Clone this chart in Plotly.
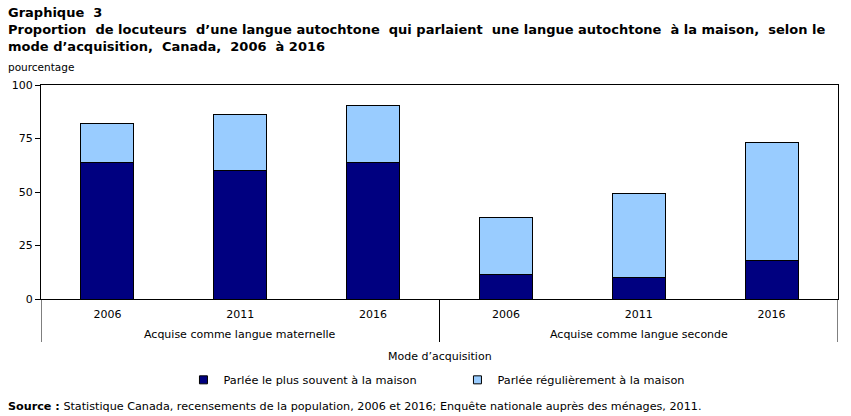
import plotly.graph_objects as go

groups = ["Acquise comme langue maternelle"] * 3 + ["Acquise comme langue seconde"] * 3
years = ["2006", "2011", "2016", "2006", "2011", "2016"]
most_often = [63.6, 60.2, 63.8, 11.6, 10.2, 17.8]
regularly = [18.6, 26.2, 26.4, 26.6, 39.2, 55.1]
series_names = ["Parlée le plus souvent à la maison", "Parlée régulièrement à la maison"]
series_colors = ["#000080", "#99CCFF"]
y_ticks = [0, 25, 50, 75, 100]

FONT = "DejaVu Sans"
W, H = 851, 416
ML, MR, MT, MB = 39, 13, 85, 117
PW, PH = W - ML - MR, H - MT - MB

xpos = list(range(len(years)))

fig = go.Figure()
for vals, name, col in zip([most_often, regularly], series_names, series_colors):
    fig.add_trace(go.Bar(x=xpos, y=vals, name=name, showlegend=False,
                         marker=dict(color=col, line=dict(color="black", width=1)), width=0.4))
# legend entries with small square markers
for name, col in zip(series_names, series_colors):
    fig.add_trace(go.Scatter(x=[None], y=[None], mode="markers", name=name,
                             marker=dict(symbol="square", size=8, color=col,
                                         line=dict(color="black", width=1))))

fig.update_layout(
    width=W, height=H,
    barmode="stack",
    margin=dict(l=ML, r=MR, t=MT, b=MB),
    paper_bgcolor="white", plot_bgcolor="white",
    font=dict(family=FONT, size=11, color="black"),
    showlegend=True,
    legend=dict(orientation="h", x=0.5 + 18 / PW, xanchor="center", y=-0.31, yanchor="top",
                font=dict(size=11.3), itemwidth=30, entrywidth=229, entrywidthmode="pixels",
                traceorder="normal"),
    xaxis=dict(range=[-0.5, len(years) - 0.5], tickvals=xpos, ticktext=years,
               showline=True, linecolor="black", linewidth=1, mirror=True,
               ticks="", showgrid=False, zeroline=False, tickfont=dict(size=11),
               ticklabelstandoff=5),
    yaxis=dict(range=[0, 100], tickvals=y_ticks, showline=True, linecolor="black", linewidth=1,
               mirror=True, ticks="outside", ticklen=5, tickcolor="black", showgrid=False,
               zeroline=False, tickfont=dict(size=11)),
)

# group labels and dividers
uniq = []
for g in groups:
    if g not in uniq:
        uniq.append(g)
bounds = [-0.5]
for g in uniq:
    idx = [i for i, gg in enumerate(groups) if gg == g]
    fig.add_annotation(x=sum(idx) / len(idx), xref="x", y=0, yref="paper", yshift=-35,
                       yanchor="middle", text=g, showarrow=False, font=dict(size=11))
    bounds.append(idx[-1] + 0.5)
for b in bounds:
    fig.add_shape(type="line", xref="x", yref="paper", x0=b, x1=b, y0=0, y1=-43 / PH,
                  line=dict(color="black", width=1))

fig.add_annotation(x=0.5, xref="paper", y=0, yref="paper", yshift=-57, yanchor="middle",
                   text="Mode d’acquisition", showarrow=False, font=dict(size=11))

LEFT = -ML / PW
title_lines = ("<b>Graphique  3</b><br><b>Proportion  de locuteurs  d’une langue autochtone  qui parlaient  une langue autochtone  à la maison,  selon le</b>"
               "<br><b>mode d’acquisition,  Canada,  2006  à 2016</b>")
fig.add_annotation(x=LEFT, xref="paper", y=1 + MT / PH, yref="paper", xanchor="left", yanchor="top",
                   xshift=4, yshift=-3, text=title_lines, showarrow=False, align="left",
                   font=dict(size=13, family=FONT))
fig.add_annotation(x=LEFT, xref="paper", y=1, yref="paper", xanchor="left", yanchor="bottom",
                   xshift=4, yshift=10, text="pourcentage", showarrow=False, font=dict(size=10.5))
fig.add_annotation(x=LEFT, xref="paper", y=0, yref="paper", xanchor="left", yanchor="bottom",
                   xshift=4, yshift=-116,
                   text="<b>Source :</b> Statistique Canada, recensements de la population, 2006 et 2016; Enquête nationale auprès des ménages, 2011.",
                   showarrow=False, font=dict(size=11.2))

fig.write_html("out.html")
